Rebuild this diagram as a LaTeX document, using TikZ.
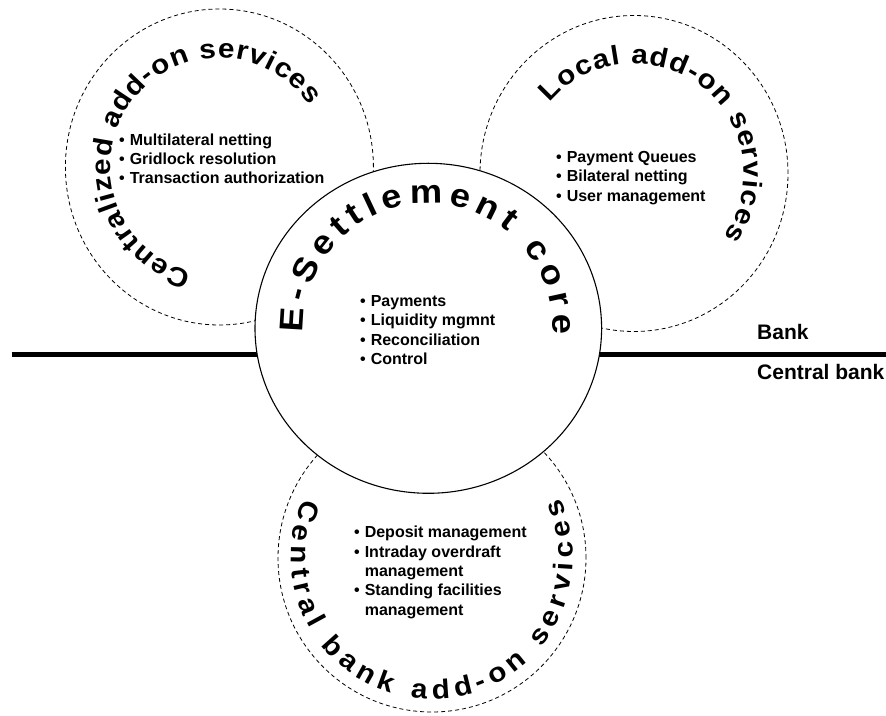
\documentclass[tikz,border=0pt]{standalone}
\usepackage{fontspec}
\setmainfont{Liberation Sans}
\newfontfamily\blackfont{Liberation Sans Bold}[FakeStretch=1.1]
\usetikzlibrary{shapes.geometric,decorations.text}
\newcommand{\arcfont}{\blackfont\fontsize{27}{30}\selectfont}
\newcommand{\corefont}{\blackfont\fontsize{33}{36}\selectfont}
\newcommand{\bul}{\textbullet\hspace{5pt}}
\tikzstyle{core} = [ellipse, draw=black, line width=1.1pt, fill=white, inner sep=0pt, minimum width=346.6pt, minimum height=330pt]
\tikzstyle{addon} = [ellipse, draw=black, line width=0.8pt, dash pattern=on 4pt off 3pt, inner sep=0pt, minimum width=308pt, minimum height=316pt]
\tikzstyle{items} = [anchor=north west, inner sep=0pt, align=left, font=\bfseries\fontsize{16}{19.3}\selectfont]
\tikzstyle{side} = [anchor=base west, inner sep=0pt, font=\bfseries\fontsize{21}{24}\selectfont]
\tikzstyle{divider} = [line width=4.5pt]
\tikzstyle{arctext} = [decorate, decoration={text along path, text align={fit to path}, text={|\arcfont|#1}}]
\tikzstyle{coretext} = [decorate, decoration={text along path, text align={fit to path}, text={|\corefont|#1}}]

\begin{document}
\begin{tikzpicture}[x=1pt,y=1pt]
      \useasboundingbox (0,0) rectangle (886,715);
      % dashed add-on circles
      \node [addon] (central) at (219.4,548) {};
      \node [addon] (local) at (634,541.5) {};
      \node [addon, minimum width=308pt, minimum height=308pt] (cbank) at (432,157) {};
      % bank / central bank split
      \coordinate (sepL) at (11.7,360.5);
      \coordinate (sepR) at (886,360.5);
      \draw [divider] (sepL) -- (sepR);
      \node [side] (bank) at (757,375) {Bank};
      \node [side] (cb) at (757,335) {Central bank};
      % core
      \node [core] (core) at (428.3,386.7) {};

      % curved titles
      \path [coretext=E-Settlement core] (core.center) ++(182:125) arc [start angle=182, end angle=-3, radius=125];
      \path [arctext=Centralized add-on services] (central.center) ++(255:109) arc [start angle=255, end angle=34, radius=109];
      \path [arctext=Local add-on services] (local.center) ++(140:110) arc [start angle=140, end angle=-35, radius=110];
      \path [arctext=Central bank add-on services] (cbank.center) ++(155:141) arc [start angle=155, end angle=385, radius=141];

      % service lists
      \node [items] (centralitems) at (119,581.6) {\bul Multilateral netting\\ \bul Gridlock resolution\\ \bul Transaction authorization};
      \node [items] (localitems) at (556,563.9) {\bul Payment Queues\\ \bul Bilateral netting\\ \bul User management};
      \node [items] (coreitems) at (360,419.6) {\bul Payments\\ \bul Liquidity mgmnt\\ \bul Reconciliation\\ \bul Control};
      \node [items] (cbankitems) at (354,188.9) {\bul Deposit management\\ \bul Intraday overdraft\\ \hphantom{\bul}management\\ \bul Standing facilities\\ \hphantom{\bul}management};
\end{tikzpicture}
\end{document}
